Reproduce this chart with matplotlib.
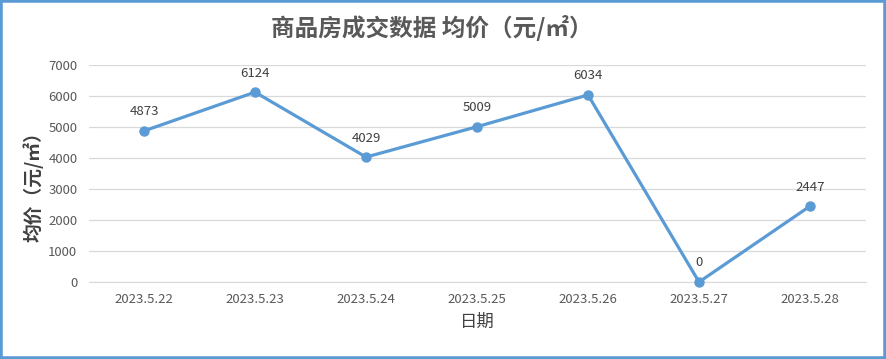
import matplotlib
matplotlib.use('Agg')
import matplotlib.pyplot as plt
from matplotlib.patches import Rectangle

plt.rcParams['font.family'] = ['Noto Sans CJK SC', 'DejaVu Sans']

# data
dates = ['2023.5.22', '2023.5.23', '2023.5.24', '2023.5.25', '2023.5.26', '2023.5.27', '2023.5.28']
prices = [4873, 6124, 4029, 5009, 6034, 0, 2447]
y_ticks = [0, 1000, 2000, 3000, 4000, 5000, 6000, 7000]

line_color = '#5B9BD5'
text_color = '#595959'

fig = plt.figure(figsize=(8.86, 3.59), dpi=100)
ax = fig.add_axes([0.0999, 0.2145, 0.877, 0.6045])

x = list(range(len(dates)))
ax.plot(x, prices, color=line_color, linewidth=2.3, marker='o', markersize=6.5, zorder=3,
        clip_on=False)

for xi, v in zip(x, prices):
    ax.annotate(str(v), (xi, v), xytext=(0, 9), textcoords='offset points',
                ha='center', va='bottom', fontsize=9.5, color='#404040')

ax.set_xlim(-0.5, len(dates) - 0.5)
ax.set_ylim(0, 7000)
ax.set_yticks(y_ticks)
ax.set_xticks(x)
ax.set_xticklabels(dates)
ax.tick_params(axis='both', length=0, colors=text_color, labelsize=9.5)
ax.tick_params(axis='x', pad=8)
ax.tick_params(axis='y', pad=8)
ax.grid(axis='y', color='#D9D9D9', linewidth=0.9)
ax.set_axisbelow(True)
for s in ['top', 'right', 'left']:
    ax.spines[s].set_visible(False)
ax.spines['bottom'].set_color('#D9D9D9')

ax.set_xlabel('日期', fontsize=12.5, color='#404040', labelpad=5)
fig.text(33 / 886, 1 - 182 / 359, '均价（元/㎡）', rotation=90, ha='center', va='center',
         fontsize=13.5, color='#404040', fontweight='bold')
fig.text(0.487, 1 - 28 / 359, '商品房成交数据 均价（元/㎡）', ha='center', va='center',
         fontsize=17, color=text_color, fontweight='bold')

fig.patches.append(Rectangle((0, 0), 1, 1, transform=fig.transFigure, fill=False,
                             edgecolor=line_color, linewidth=4))

fig.savefig('out.png', dpi=100)
